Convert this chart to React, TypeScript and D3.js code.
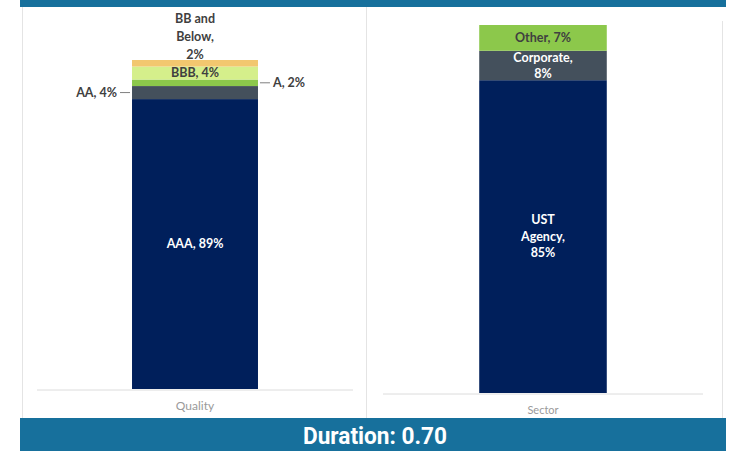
import * as d3 from "d3";

// quality breakdown (stacked bottom -> top)
const qualityCats = ["AAA", "AA", "A", "BBB", "BB and Below"];
const qualityVals = [89, 4, 2, 4, 2];
const qualityLabels = [["AAA, 89%"], ["AA, 4%"], ["A, 2%"], ["BBB, 4%"], ["BB and", "Below,", "2%"]];
const qualityPlace = ["inside", "left", "right", "inside", "above"];
const qualityColors = ["#001f5b", "#44505c", "#8cc84b", "#d5ef8b", "#f2c76f"];
const qualityText = ["#ffffff", "#404040", "#404040", "#404040", "#404040"];

// sector breakdown
const sectorCats = ["UST Agency", "Corporate", "Other"];
const sectorVals = [85, 8, 7];
const sectorLabels = [["UST", "Agency,", "85%"], ["Corporate,", "8%"], ["Other, 7%"]];
const sectorPlace = ["inside", "inside", "inside"];
const sectorColors = ["#001f5b", "#44505c", "#8cc84b"];
const sectorText = ["#ffffff", "#ffffff", "#404040"];

const W = 733;
const H = 451;
const band = "#17709c";
const font = "Lato, 'Open Sans', sans-serif";

type PanelProps = {
  name: string;
  cats: string[];
  vals: number[];
  labels: string[][];
  place: string[];
  colors: string[];
  textColors: string[];
  x0: number;
  x1: number;
  yBase: number;
  yTop: number;
  lineH: number;
  nameSize: number;
};

function Panel(p: PanelProps) {
  const total = d3.sum(p.vals);
  const x = d3.scaleBand().domain([p.name]).range([p.x0, p.x1]).padding(0.43);
  const y = d3.scaleLinear().domain([0, total]).range([p.yBase, p.yTop]);
  const stack = d3.stack<number[]>().keys(p.cats.map((_, i) => String(i)))
    .value((d, k) => d[+k]);
  const series = stack([p.vals]);
  const bx = x(p.name) as number;
  const bw = x.bandwidth();
  const cx = bx + bw / 2;

  return (
    <g>
      {series.map((s, i) => {
        const y0 = y(s[0][0]);
        const y1 = y(s[0][1]);
        return <rect key={p.cats[i]} x={bx} y={y1} width={bw} height={y0 - y1} fill={p.colors[i]} />;
      })}
      <line x1={p.x0} x2={p.x1} y1={p.yBase + 1} y2={p.yBase + 1} stroke="#dcdcdc" strokeWidth={1} />
      <text x={cx} y={p.yBase + 21} textAnchor="middle" fontFamily={font} fontSize={p.nameSize} fill="#9a9a9a">
        {p.name}
      </text>
      {series.map((s, i) => {
        const y0 = y(s[0][0]);
        const y1 = y(s[0][1]);
        const mid = (y0 + y1) / 2;
        const lines = p.labels[i];
        const pl = p.place[i];
        const col = p.textColors[i];
        if (pl === "left" || pl === "right") {
          const sign = pl === "left" ? -1 : 1;
          const edge = pl === "left" ? bx : bx + bw;
          return (
            <g key={"l" + i}>
              <line x1={edge + sign * 2} x2={edge + sign * 12} y1={mid} y2={mid} stroke="#7f7f7f" strokeWidth={1} />
              <text x={edge + sign * 15} y={mid} dy="0.35em" textAnchor={pl === "left" ? "end" : "start"}
                fontFamily={font} fontWeight="bold" fontSize={12.5} fill={col}>
                {lines[0]}
              </text>
            </g>
          );
        }
        const startY = pl === "above"
          ? y1 - 5 - (lines.length - 1) * p.lineH
          : mid - ((lines.length - 1) * p.lineH) / 2;
        return (
          <text key={"l" + i} textAnchor="middle" fontFamily={font} fontWeight="bold" fontSize={12.5} fill={col}>
            {lines.map((ln, j) => (
              <tspan key={j} x={cx} y={startY + j * p.lineH} dy="0.35em">{ln}</tspan>
            ))}
          </text>
        );
      })}
    </g>
  );
}

export default function App() {
  return (
    <svg width={W} height={H} style={{ position: "absolute", left: 0, top: 0, background: "#fff" }}>
      {/* top strip */}
      <rect x={20} y={0} width={706} height={7} fill={band} />
      {/* panel frames */}
      <line x1={22.5} x2={22.5} y1={7} y2={418} stroke="#e4e4e4" />
      <line x1={366.5} x2={366.5} y1={7} y2={418} stroke="#e4e4e4" />
      <line x1={722.5} x2={722.5} y1={21} y2={418} stroke="#e4e4e4" />

      <Panel name="Quality" cats={qualityCats} vals={qualityVals} labels={qualityLabels}
        place={qualityPlace} colors={qualityColors} textColors={qualityText}
        x0={37} x1={353} yBase={389} yTop={60} lineH={18} nameSize={12} />
      <Panel name="Sector" cats={sectorCats} vals={sectorVals} labels={sectorLabels}
        place={sectorPlace} colors={sectorColors} textColors={sectorText}
        x0={383} x1={703} yBase={393} yTop={25} lineH={16.5} nameSize={11} />

      {/* bottom title strip */}
      <rect x={20} y={418} width={706} height={33} fill={band} />
      <text x={375} y={444} textAnchor="middle" fontFamily="'Liberation Sans Narrow', 'Roboto', sans-serif"
        fontWeight="bold" fontSize={24} fill="#ffffff" textLength={144} lengthAdjust="spacingAndGlyphs">
        Duration: 0.70
      </text>
    </svg>
  );
}
